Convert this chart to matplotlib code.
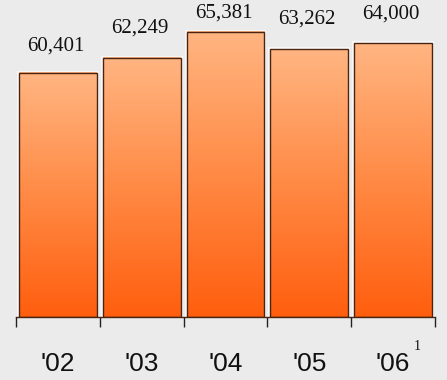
import numpy as np
import matplotlib
matplotlib.use("Agg")
import matplotlib.pyplot as plt
from matplotlib.colors import LinearSegmentedColormap

# datos
years = ["'02", "'03", "'04", "'05", "'06"]
values = [60401, 62249, 65381, 63262, 64000]
value_labels = ["60,401", "62,249", "65,381", "63,262", "64,000"]
footnote = "1"

# separación de cada etiqueta sobre su barra (px)
label_gap = [17, 20, 9, 21, 20]

BG = "#ebebeb"
EDGE = "#4a2410"
grad = LinearSegmentedColormap.from_list("naranja", ["#ff5e0e", "#ff8a45", "#ffb582"])

fig = plt.figure(figsize=(4.47, 3.80), dpi=100, facecolor=BG)
ax = fig.add_axes([16 / 447, 63 / 380, 419 / 447, 317 / 380])
ax.set_facecolor(BG)

ymin, ymax = 30760, 69260
ax.set_xlim(-0.5, len(years) - 0.5)
ax.set_ylim(ymin, ymax)

width = 0.93
g = np.linspace(0, 1, 256).reshape(-1, 1)
for i, v in enumerate(values):
    x0, x1 = i - width / 2, i + width / 2
    # halo claro alrededor de la barra
    ax.add_patch(plt.Rectangle((x0, ymin), width, v - ymin, fill=False,
                               edgecolor="#f7f7f7", lw=3.0, zorder=1))
    ax.imshow(g, cmap=grad, extent=(x0, x1, ymin, v), origin="lower",
              aspect="auto", zorder=2)
    ax.add_patch(plt.Rectangle((x0, ymin), width, v - ymin, fill=False,
                               edgecolor=EDGE, lw=1.0, zorder=3))
    ax.annotate(value_labels[i], (i, v), xytext=(-2, label_gap[i]),
                textcoords="offset pixels", ha="center", va="bottom",
                fontsize=15, family="Liberation Serif", color="#111111")
    ax.text(i, -0.170, years[i], transform=ax.get_xaxis_transform(),
            ha="center", va="baseline", fontsize=19,
            family="Liberation Sans", color="#111111")

# llamada de nota en el último año
ax.text(4.29, -0.104, footnote, transform=ax.get_xaxis_transform(),
        ha="center", va="baseline", fontsize=10,
        family="Liberation Serif", color="#111111")

ax.set_xticks(np.arange(-0.5, len(years), 1.0))
ax.set_xticklabels([])
ax.tick_params(axis="x", direction="out", length=7.5, width=1.0, color="#222222")
ax.set_yticks([])
for s in ["top", "left", "right"]:
    ax.spines[s].set_visible(False)
ax.spines["bottom"].set_color(EDGE)
ax.spines["bottom"].set_linewidth(1.0)
ax.spines["bottom"].set_zorder(4)

fig.savefig("out.png", dpi=100, facecolor=BG)
